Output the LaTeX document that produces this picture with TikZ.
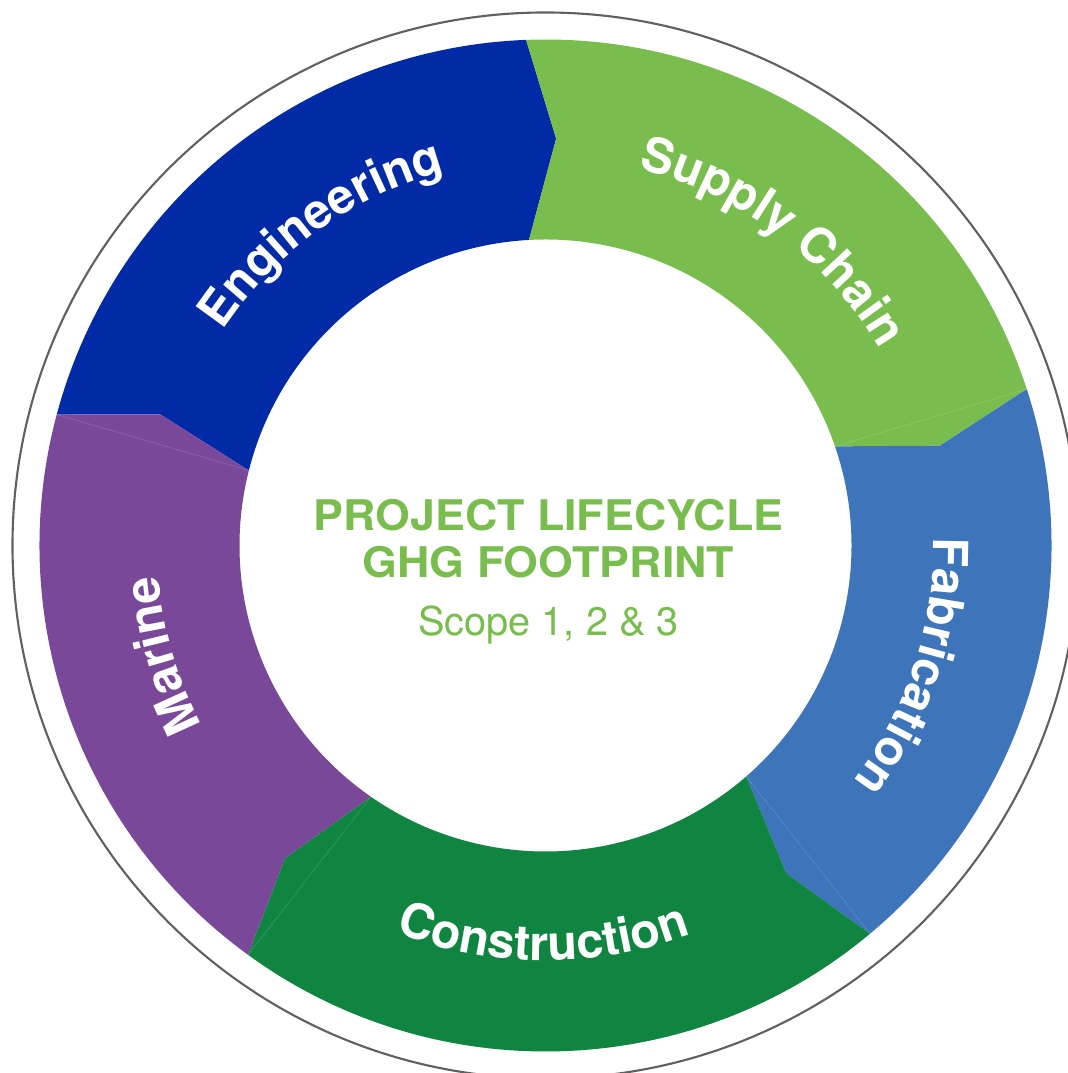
\documentclass[tikz,border=0pt]{standalone}
\usepackage{fontspec}
\usetikzlibrary{decorations.text}
\newfontfamily\heros{TeX Gyre Heros}
\newfontfamily\heroswide[FakeStretch=1.06]{TeX Gyre Heros}
\definecolor{engblue}{RGB}{1,42,166}
\definecolor{supgreen}{RGB}{122,189,79}
\definecolor{fabblue}{RGB}{61,116,186}
\definecolor{congreen}{RGB}{16,133,66}
\definecolor{marpurple}{RGB}{122,72,153}
\definecolor{ringgray}{RGB}{96,96,96}
\newcommand{\labelfont}{\heros\bfseries\fontsize{13.8}{16}\selectfont}
\begin{document}
\begin{tikzpicture}[x=0.01cm, y=0.01cm,
    seam/.style={white, opacity=0.12, line width=0.25pt},
    ringlabel/.style={decorate, decoration={text along path,
        text color=white, text align=center, text={|\labelfont|#1}}}]
\useasboundingbox (0,0) rectangle (1068,1073);
\fill[white] (0,0) rectangle (1068,1073);

\begin{scope}[shift={(545.5,527.5)}]
    %Rahmen
    \draw[ringgray, line width=0.6pt] (0,0) circle[radius=533];

    %Segmente: Farbe / Grenze davor (aussen, innen, Spitze) / Grenze danach
    \foreach \col/\ao/\ai/\at/\bo/\bi/\bt in {
        engblue/165.0/165.8/161.2/92.2/93.1/88.5,
        supgreen/92.2/93.1/88.5/18.0/18.9/14.2,
        fabblue/18.0/18.9/14.2/-50.1/-49.0/-53.7,
        congreen/-50.1/-49.0/-53.7/-126.0/-124.8/-129.8,
        marpurple/-126.0/-124.8/-129.8/-195.0/-194.2/-198.8}{
        \fill[\col] (\ao:506) arc[start angle=\ao, end angle=\bo, radius=506]
            -- (\bt:407) -- (\bi:306)
            arc[start angle=\bi, end angle=\ai, radius=306]
            -- (\at:407) -- cycle;}

    %Naehte
    \foreach \o/\i in {18.0/18.9, -50.1/-49.0, -126.0/-124.8, 165.0/165.8}{
        \draw[seam] (\o:506) -- (\i:306);}

    %Beschriftung im Ring
    \path[ringlabel=Engineering] (160.7:388)
        arc[start angle=160.7, end angle=90.7, radius=388];
    \path[ringlabel=Supply Chain] (88.3:388)
        arc[start angle=88.3, end angle=18.3, radius=388];
    \path[ringlabel=Fabrication] (16.8:388)
        arc[start angle=16.8, end angle=-53.2, radius=388];
    \path[ringlabel=Construction] (-125.3:415)
        arc[start angle=-125.3, end angle=-55.3, radius=415];
    \path[ringlabel=Marine] (231:388)
        arc[start angle=231, end angle=161, radius=388];

    %Mitte
    \node[anchor=base, text=supgreen,
        font=\heroswide\bfseries\fontsize{12}{14}\selectfont]
        (title1) at (3,14.5) {PROJECT LIFECYCLE};
    \node[anchor=base, text=supgreen,
        font=\heroswide\bfseries\fontsize{12}{14}\selectfont]
        (title2) at (3,-32.5) {GHG FOOTPRINT};
    \node[anchor=base, text=supgreen,
        font=\heros\fontsize{11.3}{14}\selectfont]
        (scope) at (3,-90.5) {Scope 1, 2 \& 3};
\end{scope}
\end{tikzpicture}
\end{document}
